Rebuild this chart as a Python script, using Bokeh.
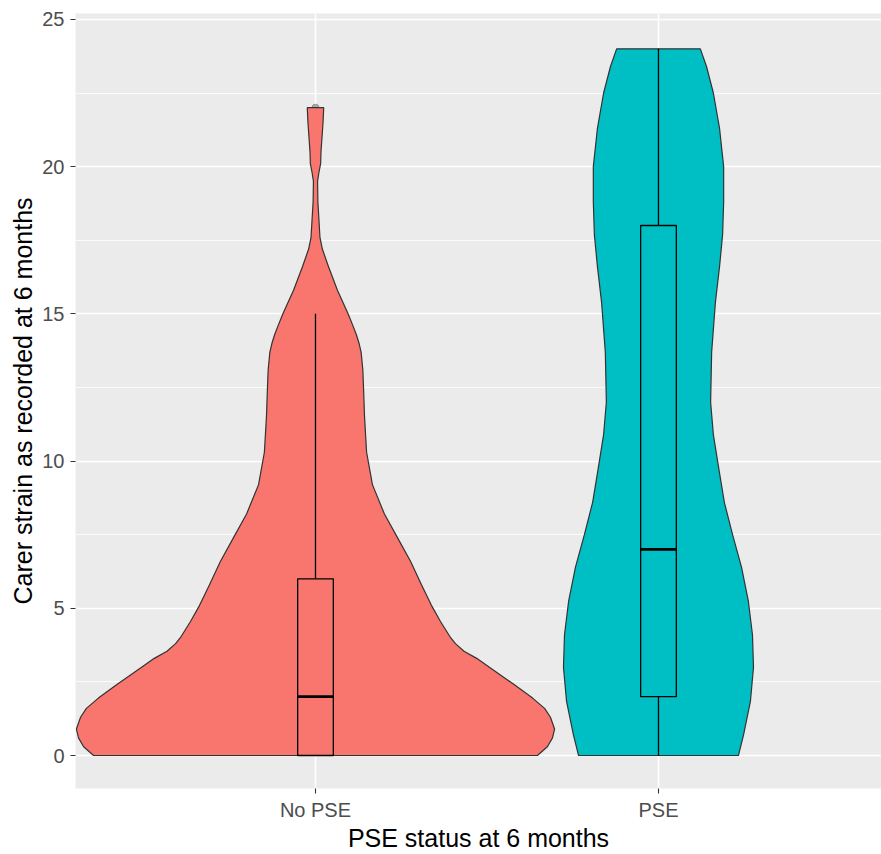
from bokeh.plotting import figure
from bokeh.models import FixedTicker, Range1d
from bokeh.embed import file_html
from bokeh.resources import INLINE

# ---- data ----
categories = ["No PSE", "PSE"]
cat_pos = [1, 2]
fills = ["#F8766D", "#00BFC4"]

# violin outline: y level and half-width (in category units)
nopse_y = [0, 0.3, 0.6, 0.9, 1.3, 1.6, 1.95, 2.4, 3.0, 3.3, 3.54, 3.8, 4.0, 4.56,
           5.1, 5.8, 6.6, 7.4, 8.2, 9.2, 10.3, 11.5, 12.5, 13.1, 13.7, 14.0,
           14.3, 14.6, 15.0, 15.8, 16.6, 17.2, 17.6, 18.2, 18.8, 19.5, 19.8, 20.1,
           20.5, 21.0, 21.5, 22.0]
nopse_hw = [0.647, 0.676, 0.691, 0.697, 0.685, 0.668, 0.633, 0.580, 0.507, 0.470,
            0.433, 0.408, 0.394, 0.364, 0.338, 0.309, 0.277, 0.239, 0.201, 0.166,
            0.149, 0.143, 0.140, 0.138, 0.133, 0.127, 0.119, 0.109, 0.095, 0.064,
            0.038, 0.020, 0.013, 0.010, 0.007, 0.006, 0.010, 0.015, 0.016, 0.019,
            0.022, 0.024]

pse_y = [0, 0.7, 1.84, 3.0, 4.1, 5.24, 6.4, 7.5, 8.6, 9.8, 10.9, 12.0, 13.7,
         15.4, 16.6, 17.7, 18.8, 20.0, 21.3, 22.5, 23.4, 24.0]
pse_hw = [0.233, 0.248, 0.268, 0.277, 0.274, 0.262, 0.242, 0.216, 0.192, 0.175,
          0.160, 0.152, 0.155, 0.166, 0.178, 0.187, 0.190, 0.190, 0.178, 0.160,
          0.140, 0.122]

# boxplot statistics
whisker_low = [0, 0]
q1 = [0, 2]
median = [2, 7]
q3 = [6, 18]
whisker_high = [15, 24]
outlier_cat = [1]
outlier_y = [22]

y_ticks = [0, 5, 10, 15, 20, 25]
y_minor = [2.5, 7.5, 12.5, 17.5, 22.5]

FONT = "Liberation Sans"

p = figure(width=881, height=854, output_backend="svg", toolbar_location=None,
           x_range=Range1d(0.3003, 2.6502), y_range=Range1d(-1.12, 25.2),
           min_border_left=75, min_border_right=0, min_border_top=13,
           min_border_bottom=65)

p.background_fill_color = "#EBEBEB"
p.border_fill_color = "white"
p.outline_line_color = None

p.xaxis.ticker = FixedTicker(ticks=cat_pos)
p.xaxis.major_label_overrides = {c: n for c, n in zip(cat_pos, categories)}
p.yaxis.ticker = FixedTicker(ticks=y_ticks, minor_ticks=y_minor)

for g in (p.xgrid, p.ygrid):
    g.grid_line_color = "white"
    g.grid_line_width = 1.6
p.ygrid.minor_grid_line_color = "white"
p.ygrid.minor_grid_line_width = 0.8

for ax in (p.xaxis, p.yaxis):
    ax.axis_line_color = None
    ax.major_tick_line_color = "#333333"
    ax.major_tick_line_width = 1.1
    ax.major_tick_out = 5
    ax.major_tick_in = 0
    ax.minor_tick_line_color = None
    ax.major_label_text_color = "#4D4D4D"
    ax.major_label_text_font = FONT
    ax.major_label_text_font_size = "20px"
    ax.axis_label_text_font = FONT
    ax.axis_label_text_font_size = "25px"
    ax.axis_label_text_font_style = "normal"
    ax.axis_label_text_color = "black"

p.yaxis.major_label_standoff = 6
p.yaxis.axis_label_standoff = 2
p.xaxis.major_label_standoff = 5
p.xaxis.axis_label_standoff = 0

p.xaxis.axis_label = "PSE status at 6 months"
p.yaxis.axis_label = "Carer strain as recorded at 6 months"

# outlier (drawn first, partly hidden by violin)
p.scatter(x=outlier_cat, y=outlier_y, size=7, fill_color="#9A9A9A",
          line_color="#808080", fill_alpha=0.8, line_alpha=0.8)

violins = [(nopse_y, nopse_hw), (pse_y, pse_hw)]
for c, (ys, hws), col in zip(cat_pos, violins, fills):
    xs = [c - h for h in hws] + [c + h for h in reversed(hws)]
    yy = list(ys) + list(reversed(ys))
    p.patch(xs, yy, fill_color=col, line_color="#333333", line_width=1.2)

box_hw = 0.052
for i, c in enumerate(cat_pos):
    p.segment(x0=[c, c], y0=[whisker_low[i], q3[i]], x1=[c, c],
              y1=[q1[i], whisker_high[i]], line_color="black", line_width=1.3)
    p.quad(left=[c - box_hw], right=[c + box_hw], bottom=[q1[i]], top=[q3[i]],
           fill_color=fills[i], line_color="black", line_width=1.3)
    p.segment(x0=[c - box_hw], y0=[median[i]], x1=[c + box_hw], y1=[median[i]],
              line_color="black", line_width=2.8)

open("out.html", "w").write(file_html(p, INLINE))
